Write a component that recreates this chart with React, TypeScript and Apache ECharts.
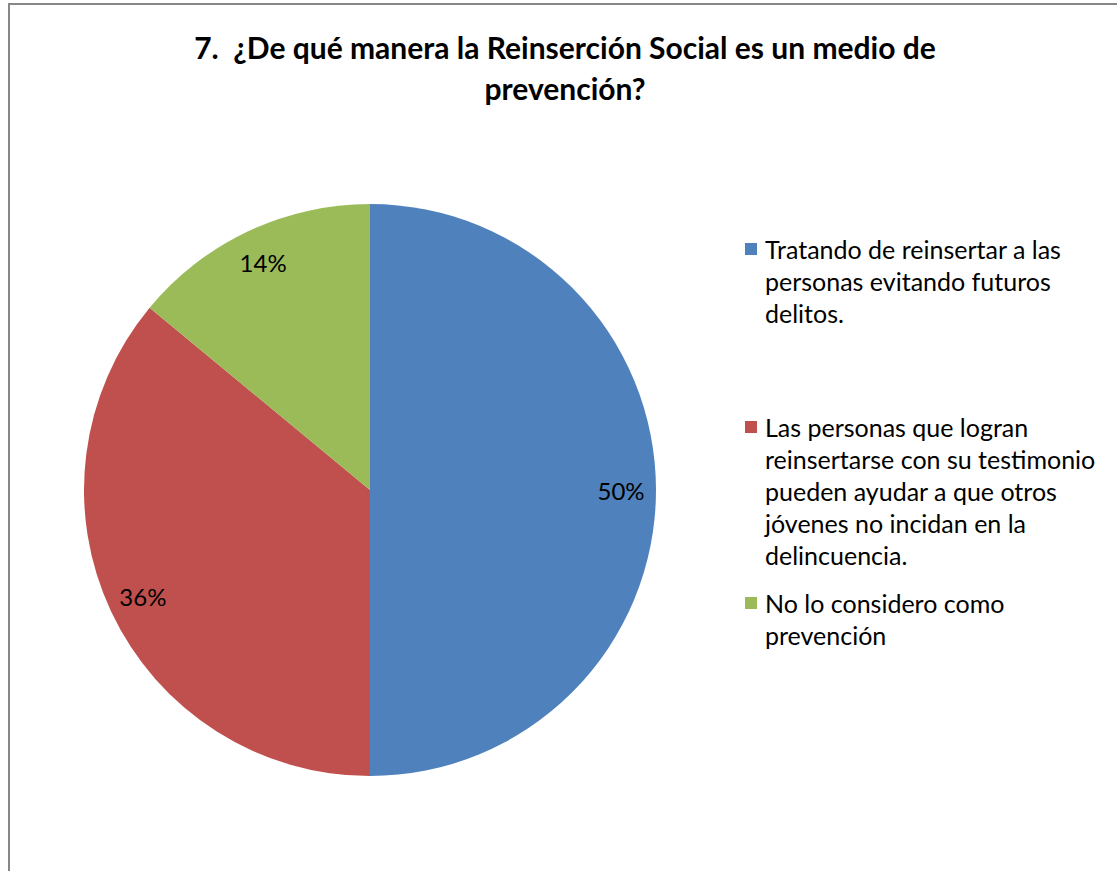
import React, { useEffect, useRef } from "react";
import * as echarts from "echarts";

const titleText = "7.  ¿De qué manera la Reinserción Social es un medio de\nprevención?";
const categories = [
  "Tratando de reinsertar a las\npersonas evitando futuros\ndelitos.",
  "Las personas que logran\nreinsertarse con su testimonio\npueden ayudar a que otros\njóvenes no incidan en la\ndelincuencia.",
  "No lo considero como\nprevención",
];
const values = [50, 36, 14];
const colors = ["#4F81BD", "#C0504D", "#9BBB59"];
const legendFirstLineY = [249, 427, 603];

const FONT = "Lato, 'Noto Sans', sans-serif";
const LINE_H = 32;

export default function App() {
  const ref = useRef<HTMLDivElement>(null);
  useEffect(() => {
    if (!ref.current) return;
    const chart = echarts.init(ref.current, null, { renderer: "svg" });
    const data = categories.map((name, i) => ({ name, value: values[i], itemStyle: { color: colors[i] } }));
    const legends = categories.map((name, i) => {
      const n = name.split("\n").length;
      return {
        data: [name],
        orient: "vertical",
        left: 745,
        top: legendFirstLineY[i] - LINE_H / 2 - (n - 1) * LINE_H,
        padding: 0,
        icon: "rect",
        itemWidth: 12,
        itemHeight: 12,
        selectedMode: false,
        formatter: (nm: string) => "\n".repeat(n - 1) + nm,
        textStyle: { fontFamily: FONT, fontSize: 25, lineHeight: LINE_H, color: "#000", padding: [0, 0, 0, 3] },
      };
    });
    chart.setOption({
      animation: false,
      backgroundColor: "#fff",
      title: {
        text: titleText,
        left: 565,
        textAlign: "center",
        top: 26,
        padding: 0,
        textStyle: { fontFamily: FONT, fontWeight: "bold", fontSize: 30, lineHeight: 41, color: "#000" },
      },
      legend: legends,
      graphic: [
        {
          type: "rect",
          shape: { x: 9, y: 4, width: 1300, height: 1100 },
          style: { fill: "none", stroke: "#878787", lineWidth: 2 },
          silent: true,
        },
      ],
      series: [
        {
          type: "pie",
          center: [370, 490],
          radius: 286,
          startAngle: 90,
          clockwise: true,
          label: { show: false },
          labelLine: { show: false },
          emphasis: { disabled: true },
          silent: true,
          data,
        },
        {
          type: "pie",
          center: [370, 490],
          radius: [210, 286],
          startAngle: 90,
          clockwise: true,
          silent: true,
          emphasis: { disabled: true },
          itemStyle: { color: "rgba(0,0,0,0)" },
          labelLine: { show: false },
          label: {
            show: true,
            position: "inside",
            formatter: "{c}%",
            fontFamily: FONT,
            fontSize: 24,
            color: "#000",
          },
          data: categories.map((name, i) => ({ name, value: values[i] })),
        },
      ],
    });
    return () => chart.dispose();
  }, []);
  return (
    <div
      ref={ref}
      style={{ position: "absolute", left: 0, top: 0, width: 1117, height: 871 }}
    />
  );
}
